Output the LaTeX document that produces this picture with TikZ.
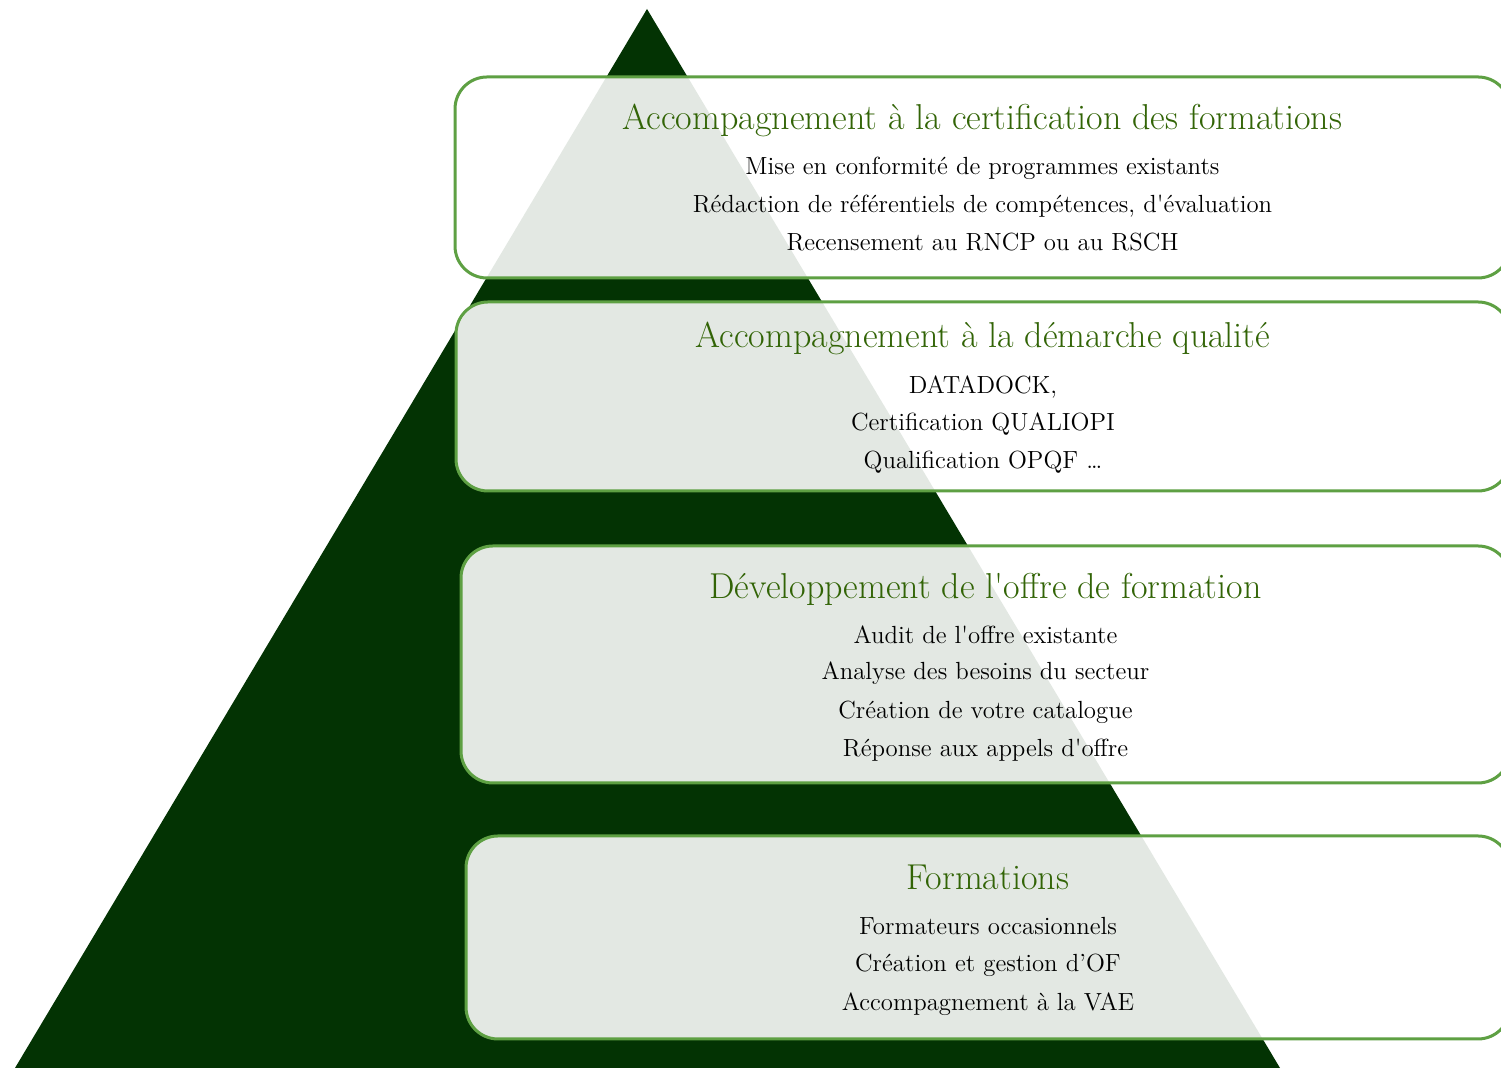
\documentclass[tikz,border=0pt]{standalone}
\usepackage{tikz}
\usetikzlibrary{calc}
\definecolor{pyramide}{RGB}{3,51,3}
\definecolor{cadre}{RGB}{94,160,67}
\definecolor{vertitre}{RGB}{50,100,6}
\tikzset{
	etage/.style={draw=cadre, line width=1.5pt, fill=white, fill opacity=0.89, rounded corners=16pt, inner sep=0pt},
	titreetage/.style={text=vertitre, font=\fontsize{18}{21}\selectfont, anchor=base, inner sep=0pt},
	ligne/.style={text=black, font=\fontsize{12.4}{15}\selectfont, anchor=base, inner sep=0pt}
}
\newcommand{\apos}{\textquotesingle}

\begin{document}
\begin{tikzpicture}[x=0.5pt, y=0.5pt]
				\useasboundingbox (0,0) rectangle (1501,1068);
				\clip (0,0) rectangle (1501,1068);
				
				% pyramide
				\fill[pyramide] (647,1059) -- (15,0) -- (1280,0) -- cycle;
				
				% etage 1
				\node[etage, minimum width=527.5pt, minimum height=100.5pt] (certif) at (982.5,890.5) {};
				\node[titreetage] (certif-titre) at (982.5,938) {Accompagnement à la certification des formations};
				\node[ligne] (certif-a) at (982.5,893) {Mise en conformité de programmes existants};
				\node[ligne] (certif-b) at (982.5,855) {Rédaction de référentiels de compétences, d\apos évaluation};
				\node[ligne] (certif-c) at (982.5,817) {Recensement au RNCP ou au RSCH};
				
				% etage 2
				\node[etage, minimum width=527pt, minimum height=94.5pt] (qualite) at (983,671.5) {};
				\node[titreetage] (qualite-titre) at (983,720) {Accompagnement à la démarche qualité};
				\node[ligne] (qualite-a) at (983,674) {DATADOCK,};
				\node[ligne] (qualite-b) at (983,637) {Certification QUALIOPI};
				\node[ligne] (qualite-c) at (983,599) {Qualification OPQF \dots};
				
				% etage 3
				\node[etage, minimum width=524.5pt, minimum height=118.5pt] (offre) at (985.5,403.5) {};
				\node[titreetage] (offre-titre) at (985.5,469) {Développement de l\apos offre de formation};
				\node[ligne] (offre-a) at (985.5,424) {Audit de l\apos offre existante};
				\node[ligne] (offre-b) at (985.5,388) {Analyse des besoins du secteur};
				\node[ligne] (offre-c) at (985.5,349) {Création de votre catalogue};
				\node[ligne] (offre-d) at (985.5,311) {Réponse aux appels d\apos offre};
				
				% etage 4
				\node[etage, minimum width=522pt, minimum height=101.5pt] (formations) at (988,130.5) {};
				\node[titreetage] (formations-titre) at (988,178) {Formations};
				\node[ligne] (formations-a) at (988,133) {Formateurs occasionnels};
				\node[ligne] (formations-b) at (988,96) {Création et gestion d’OF};
				\node[ligne] (formations-c) at (988,57) {Accompagnement à la VAE};
			\end{tikzpicture}
\end{document}
